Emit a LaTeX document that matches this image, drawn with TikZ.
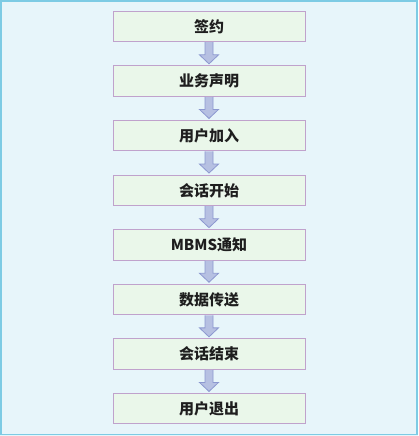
\documentclass[tikz,border=0pt]{standalone}
\usepackage{fontspec}
\newfontfamily\cjk{Noto Sans CJK SC}
\usetikzlibrary{calc}
\definecolor{bgc}{RGB}{231,245,250}
\definecolor{framec}{RGB}{125,203,228}
\definecolor{boxfill}{RGB}{234,247,234}
\definecolor{boxline}{RGB}{192,162,204}
\definecolor{arrfill}{RGB}{182,192,226}
\definecolor{arrline}{RGB}{140,152,208}
\definecolor{txt}{RGB}{30,30,30}
\begin{document}
\begin{tikzpicture}[x=1pt,y=-1pt,
  stepbox/.style={draw=boxline, fill=boxfill, line width=1pt, minimum width=192pt, minimum height=30.5pt, inner sep=0pt, font=\cjk\bfseries\fontsize{15pt}{18pt}\selectfont, text=txt},
  fatarrow/.style={fill=arrfill, draw=arrline, line width=0.8pt, line join=miter}]
\useasboundingbox (0,0) rectangle (418,436);
\fill[bgc] (0,0) rectangle (418,436);
\draw[framec, line width=1.6pt] (0.8,0.8) rectangle (417.2,434.6);
\foreach \t [count=\i from 0] in {签约,业务声明,用户加入,会话开始,MBMS通知,数据传送,会话结束,用户退出}{
  \node[stepbox] (b\i) at (209, 26.5+54.6*\i) {\t};
}
\foreach \i [evaluate=\i as \j using int(\i+1)] in {0,...,6}{
  \filldraw[fatarrow] ($(b\i.south)+(-4,0)$) -- ($(b\j.north)+(-4,-10.5)$) -- ($(b\j.north)+(-9.5,-10.5)$) -- ($(b\j.north)+(0,-1.5)$) -- ($(b\j.north)+(9.5,-10.5)$) -- ($(b\j.north)+(4,-10.5)$) -- ($(b\i.south)+(4,0)$);
}
\end{tikzpicture}
\end{document}
